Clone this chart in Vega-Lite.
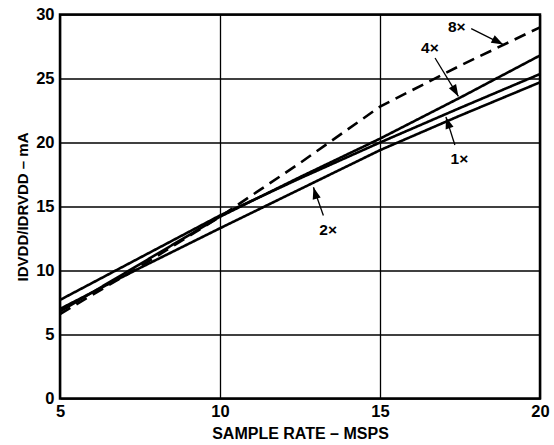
{
  "$schema": "https://vega.github.io/schema/vega-lite/v6.json",
  "autosize": {"type": "none"},
  "padding": {"left": 60, "top": 14.5, "right": 14, "bottom": 46.5},
  "width": 480,
  "height": 384,
  "background": "white",
  "config": {
    "font": "Liberation Sans",
    "view": {"stroke": "black", "strokeWidth": 2.5},
    "axis": {
      "grid": true,
      "gridColor": "black",
      "gridOpacity": 1,
      "gridWidth": 1.3,
      "ticks": false,
      "domain": false,
      "labelFlush": false,
      "labelFont": "Liberation Sans",
      "labelFontWeight": "bold",
      "labelFontSize": 16.5,
      "labelColor": "black",
      "titleFont": "Liberation Sans",
      "titleFontWeight": "bold",
      "titleColor": "black"
    }
  },
  "layer": [
    {
      "data": {
        "values": [
          {"rate": 5, "current": 7.7, "series": "1×"},
          {"rate": 7.5, "current": 11.0, "series": "1×"},
          {"rate": 10, "current": 14.3, "series": "1×"},
          {"rate": 12.5, "current": 17.2, "series": "1×"},
          {"rate": 15, "current": 20.0, "series": "1×"},
          {"rate": 17.5, "current": 22.7, "series": "1×"},
          {"rate": 20, "current": 25.35, "series": "1×"},
          {"rate": 5, "current": 7.0, "series": "2×"},
          {"rate": 7.5, "current": 10.2, "series": "2×"},
          {"rate": 10, "current": 13.3, "series": "2×"},
          {"rate": 12.5, "current": 16.35, "series": "2×"},
          {"rate": 15, "current": 19.4, "series": "2×"},
          {"rate": 17.5, "current": 22.1, "series": "2×"},
          {"rate": 20, "current": 24.7, "series": "2×"},
          {"rate": 5, "current": 6.8, "series": "4×"},
          {"rate": 7.5, "current": 10.5, "series": "4×"},
          {"rate": 10, "current": 14.2, "series": "4×"},
          {"rate": 12.5, "current": 17.3, "series": "4×"},
          {"rate": 15, "current": 20.3, "series": "4×"},
          {"rate": 17.5, "current": 23.5, "series": "4×"},
          {"rate": 20, "current": 26.8, "series": "4×"},
          {"rate": 5, "current": 6.6, "series": "8×"},
          {"rate": 7.5, "current": 10.3, "series": "8×"},
          {"rate": 10, "current": 14.2, "series": "8×"},
          {"rate": 12.5, "current": 18.4, "series": "8×"},
          {"rate": 15, "current": 22.8, "series": "8×"},
          {"rate": 17.5, "current": 26.0, "series": "8×"},
          {"rate": 20, "current": 29.0, "series": "8×"}
        ]
      },
      "mark": {"type": "line", "color": "black", "strokeCap": "butt"},
      "encoding": {
        "x": {
          "field": "rate", "type": "quantitative", "title": "SAMPLE RATE – MSPS",
          "scale": {"domain": [5, 20], "nice": false, "zero": false},
          "axis": {"values": [5, 10, 15, 20], "labelPadding": 5, "titlePadding": 5, "titleFontSize": 16}
        },
        "y": {
          "field": "current", "type": "quantitative", "title": "IDVDD/IDRVDD – mA",
          "scale": {"domain": [0, 30], "nice": false},
          "axis": {"values": [0, 5, 10, 15, 20, 25, 30], "labelPadding": 6, "titlePadding": 5, "titleFontSize": 15}
        },
        "detail": {"field": "series"},
        "strokeDash": {
          "field": "series", "type": "nominal",
          "scale": {"domain": ["1×", "2×", "4×", "8×"], "range": [[1, 0], [1, 0], [1, 0], [12, 7]]},
          "legend": null
        },
        "strokeWidth": {
          "field": "series", "type": "nominal",
          "scale": {"domain": ["1×", "2×", "4×", "8×"], "range": [2.6, 2.6, 1.5, 2.4]},
          "legend": null
        }
      }
    },
    {
      "data": {
        "name": "annot",
        "values": [
          {"label": "8×", "tx": 17.4, "ty": 29.0, "ax": 17.85, "ay": 28.9, "hx": 18.85, "hy": 27.65, "dir": 118},
          {"label": "4×", "tx": 16.56, "ty": 27.4, "ax": 16.72, "ay": 26.6, "hx": 17.45, "hy": 23.6, "dir": 150},
          {"label": "2×", "tx": 13.38, "ty": 13.2, "ax": 13.23, "ay": 14.3, "hx": 12.92, "hy": 16.5, "dir": -16},
          {"label": "1×", "tx": 17.48, "ty": 18.7, "ax": 17.34, "ay": 19.8, "hx": 17.06, "hy": 22.0, "dir": -18}
        ]
      },
      "layer": [
        {
          "mark": {"type": "rule", "color": "black", "strokeWidth": 1.3},
          "encoding": {
            "x": {"field": "ax", "type": "quantitative", "title": "SAMPLE RATE – MSPS"},
            "y": {"field": "ay", "type": "quantitative", "title": "IDVDD/IDRVDD – mA"},
            "x2": {"field": "hx"},
            "y2": {"field": "hy"}
          }
        },
        {
          "mark": {"type": "point", "shape": "M0,0L-0.35,1L0.35,1Z", "filled": true, "color": "black", "opacity": 1, "size": 560, "strokeWidth": 0},
          "encoding": {
            "x": {"field": "hx", "type": "quantitative", "title": "SAMPLE RATE – MSPS"},
            "y": {"field": "hy", "type": "quantitative", "title": "IDVDD/IDRVDD – mA"},
            "angle": {"field": "dir", "type": "quantitative", "scale": null}
          }
        },
        {
          "mark": {"type": "text", "color": "black", "font": "Liberation Sans", "fontWeight": "bold", "fontSize": 15.5, "align": "center", "baseline": "middle"},
          "encoding": {
            "x": {"field": "tx", "type": "quantitative", "title": "SAMPLE RATE – MSPS"},
            "y": {"field": "ty", "type": "quantitative", "title": "IDVDD/IDRVDD – mA"},
            "text": {"field": "label"}
          }
        }
      ]
    }
  ]
}
